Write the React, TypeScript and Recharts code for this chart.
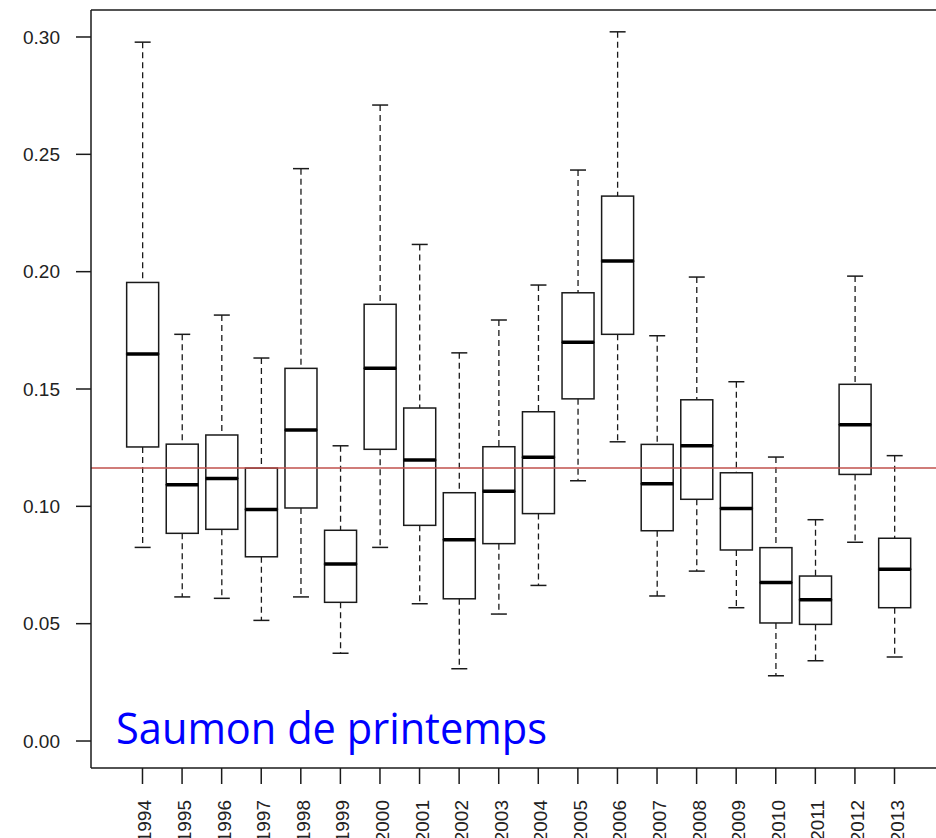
import { ComposedChart, Bar, XAxis, YAxis, ReferenceLine } from 'recharts';

const years = [
  '1994', '1995', '1996', '1997', '1998', '1999', '2000', '2001', '2002', '2003',
  '2004', '2005', '2006', '2007', '2008', '2009', '2010', '2011', '2012', '2013',
];
const lower = [0.0825, 0.0614, 0.0608, 0.0514, 0.0614, 0.0374, 0.0825, 0.0585, 0.0308, 0.0541,
  0.0663, 0.1109, 0.1275, 0.0618, 0.0724, 0.0568, 0.0278, 0.0342, 0.0847, 0.0358];
const q1 = [0.1253, 0.0885, 0.0902, 0.0785, 0.0993, 0.0591, 0.1243, 0.0919, 0.0606, 0.0841,
  0.0969, 0.1458, 0.1733, 0.0896, 0.103, 0.0814, 0.0503, 0.0497, 0.1136, 0.0568];
const median = [0.1649, 0.1092, 0.1119, 0.0987, 0.1325, 0.0754, 0.1588, 0.1197, 0.0858, 0.1064,
  0.1209, 0.1699, 0.2045, 0.1096, 0.1258, 0.0991, 0.0675, 0.0602, 0.1348, 0.0732];
const q3 = [0.1954, 0.1265, 0.1304, 0.1163, 0.1588, 0.0898, 0.1861, 0.1419, 0.1058, 0.1254,
  0.1403, 0.191, 0.2322, 0.1264, 0.1454, 0.1143, 0.0824, 0.0703, 0.152, 0.0864];
const upper = [0.2978, 0.1733, 0.1815, 0.1632, 0.2439, 0.1258, 0.271, 0.2116, 0.1654, 0.1794,
  0.1943, 0.2433, 0.3022, 0.1727, 0.1977, 0.1531, 0.121, 0.0943, 0.1981, 0.1216];
const yTicks = [0, 0.05, 0.1, 0.15, 0.2, 0.25, 0.3];
const yDomain = [-0.0115, 0.3115];
const meanValue = 0.1163;
const title = 'Saumon de printemps';

const data = years.map((year, i) => ({
  year,
  base: lower[i],
  whiskerLow: q1[i] - lower[i],
  boxLow: median[i] - q1[i],
  boxHigh: q3[i] - median[i],
  whiskerHigh: upper[i] - q3[i],
}));

const INK = '#1a1a1a';
const AXIS_FONT = 'Liberation Sans, Arial, sans-serif';

function LowWhisker({ x, y, width, height }: any) {
  const cx = x + width / 2;
  const bottom = y + height;
  return (
    <g>
      <line x1={cx} x2={cx} y1={y} y2={bottom} stroke={INK} strokeWidth={1.3} strokeDasharray="6 4" />
      <line x1={cx - width / 4} x2={cx + width / 4} y1={bottom} y2={bottom} stroke={INK} strokeWidth={1.5} />
    </g>
  );
}

function HighWhisker({ x, y, width, height }: any) {
  const cx = x + width / 2;
  return (
    <g>
      <line x1={cx} x2={cx} y1={y} y2={y + height} stroke={INK} strokeWidth={1.3} strokeDasharray="6 4" />
      <line x1={cx - width / 4} x2={cx + width / 4} y1={y} y2={y} stroke={INK} strokeWidth={1.5} />
    </g>
  );
}

function LowBox({ x, y, width, height }: any) {
  return <rect x={x} y={y} width={width} height={height} fill="none" stroke={INK} strokeWidth={1.5} />;
}

// upper half of the box, median drawn on its bottom edge
function HighBox({ x, y, width, height }: any) {
  return (
    <g>
      <rect x={x} y={y} width={width} height={height} fill="none" stroke={INK} strokeWidth={1.5} />
      <line x1={x} x2={x + width} y1={y + height} y2={y + height} stroke="#000" strokeWidth={3.5} />
    </g>
  );
}

function YearTick({ x, y, payload }: any) {
  return (
    <text
      x={x}
      y={y}
      dy={9}
      transform={`rotate(-90, ${x}, ${y})`}
      textAnchor="end"
      fill="#222"
      fontSize={19}
      fontFamily={AXIS_FONT}
    >
      {payload.value}
    </text>
  );
}

export default function App() {
  return (
    <div style={{ position: 'absolute', left: 0, top: 0, width: 936, height: 838, overflow: 'hidden', background: '#fff' }}>
      <ComposedChart
        width={960}
        height={838}
        data={data}
        margin={{ top: 10, right: 14, left: 0, bottom: 0 }}
        barCategoryGap="10%"
      >
        <XAxis
          dataKey="year"
          type="category"
          interval={0}
          padding={{ left: 31.7, right: 31.7 }}
          height={70}
          tickSize={16}
          tickMargin={16}
          tick={<YearTick />}
          axisLine={{ stroke: INK, strokeWidth: 1.5 }}
          tickLine={{ stroke: INK, strokeWidth: 1.5 }}
        />
        <YAxis
          type="number"
          domain={yDomain}
          allowDataOverflow
          ticks={yTicks}
          tickFormatter={(v: number) => v.toFixed(2)}
          width={91}
          tickSize={15}
          tickMargin={16}
          tick={{ fill: '#222', fontSize: 19, fontFamily: AXIS_FONT }}
          axisLine={{ stroke: INK, strokeWidth: 1.5 }}
          tickLine={{ stroke: INK, strokeWidth: 1.5 }}
        />
        <Bar dataKey="base" stackId="box" fill="none" isAnimationActive={false} shape={() => null} />
        <Bar dataKey="whiskerLow" stackId="box" isAnimationActive={false} shape={<LowWhisker />} />
        <Bar dataKey="boxLow" stackId="box" isAnimationActive={false} shape={<LowBox />} />
        <Bar dataKey="boxHigh" stackId="box" isAnimationActive={false} shape={<HighBox />} />
        <Bar dataKey="whiskerHigh" stackId="box" isAnimationActive={false} shape={<HighWhisker />} />
        <ReferenceLine y={meanValue} stroke="#c0504d" strokeWidth={1.5} />
        {/* top edge of the plot frame */}
        <ReferenceLine y={yDomain[1]} stroke={INK} strokeWidth={1.5} />
      </ComposedChart>
      <svg width={936} height={838} style={{ position: 'absolute', left: 0, top: 0, pointerEvents: 'none' }}>
        <text
          x={116}
          y={744}
          fontSize={44}
          fontFamily="Open Sans, Noto Sans, sans-serif"
          fill="#0000ff"
          textLength={431}
          lengthAdjust="spacingAndGlyphs"
        >
          {title}
        </text>
      </svg>
    </div>
  );
}
